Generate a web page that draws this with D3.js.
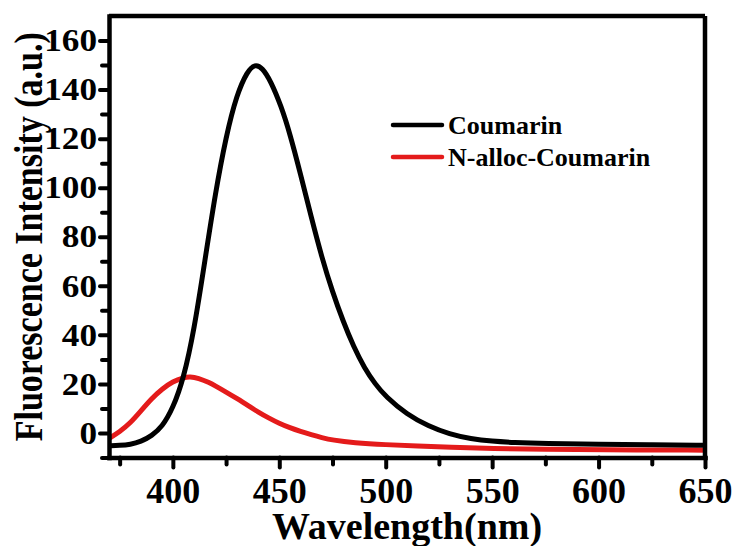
<!DOCTYPE html>
<html>
<head>
<meta charset="utf-8">
<script src="https://cdn.jsdelivr.net/npm/d3@7"></script>
<style>
  body { margin: 0; background: #fff; }
  text { font-family: "Liberation Serif", "Times New Roman", serif; font-weight: bold; }
</style>
</head>
<body>
<div id="container"></div>
<script>
/* DATA */
const coumarinWl = [370, 375, 380, 385, 390, 395, 400, 405, 410, 415, 420, 425, 430, 435, 438.5, 442, 446, 451, 455, 460, 465, 470, 475, 480, 485, 490, 495, 500, 510, 520, 530, 540, 550, 560, 575, 600, 625, 650];
const coumarinVal = [-5.2, -5.1, -4.7, -3.5, -1.2, 2.5, 10, 22, 42, 70, 98, 121, 138, 147.5, 150.4, 149, 143.5, 133, 122, 105.5, 88, 71.5, 57.5, 45.5, 35, 26.5, 20, 14.8, 7.5, 2.8, -0.5, -2.4, -3.4, -3.9, -4.3, -4.6, -4.8, -5];

const allocWl = [370, 375, 380, 385, 390, 395, 400, 405, 408, 412, 417, 420, 425, 430, 435, 440, 445, 450, 455, 460, 465, 470, 475, 485, 500, 515, 530, 550, 575, 600, 650];
const allocVal = [-2.2, 0.5, 4, 9, 14, 18, 21, 22.6, 23, 22.4, 20.6, 19.2, 16.7, 14.1, 11.3, 8.6, 6.1, 3.9, 2.1, 0.6, -0.7, -1.9, -2.9, -4, -4.8, -5.3, -5.8, -6.3, -6.7, -6.9, -7];

const seriesNames = ["Coumarin", "N-alloc-Coumarin"];
const seriesColors = ["#000000", "#e41b1b"];

const xTicks = [400, 450, 500, 550, 600, 650];
const xMinor = [375, 425, 475, 525, 575, 625];
const yTicks = [0, 20, 40, 60, 80, 100, 120, 140, 160];
const yMinor = [-10, 10, 30, 50, 70, 90, 110, 130, 150];

/* CONSTANTS */
const W = 737, H = 546;
const margin = { top: 16, right: 32, bottom: 88.5, left: 109 };
const width = W - margin.left - margin.right;
const height = H - margin.top - margin.bottom;

const svg = d3.select("#container")
  .append("svg")
  .attr("width", W)
  .attr("height", H);

const x = d3.scaleLinear().domain([370, 650]).range([0, width]);
const y = d3.scaleLinear().domain([-10, 170]).range([height, 0]);

const g = svg.append("g").attr("transform", `translate(${margin.left},${margin.top})`);

g.append("clipPath").attr("id", "clip")
  .append("rect").attr("width", width).attr("height", height);

const line = d3.line()
  .x(d => x(d[0]))
  .y(d => y(d[1]))
  .curve(d3.curveBasis);

const series = [
  d3.zip(coumarinWl, coumarinVal),
  d3.zip(allocWl, allocVal)
];

// red first so the black one sits on top where they cross
g.selectAll("path.curve")
  .data([1, 0])
  .join("path")
  .attr("class", "curve")
  .attr("clip-path", "url(#clip)")
  .attr("d", i => line(series[i]))
  .attr("fill", "none")
  .attr("stroke", i => seriesColors[i])
  .attr("stroke-width", 5)
  .attr("stroke-linejoin", "round");

// frame
g.append("line").attr("x1", 0).attr("x2", width).attr("y1", 0).attr("y2", 0)
  .attr("stroke", "#000").attr("stroke-width", 4.5);
g.append("line").attr("x1", width).attr("x2", width).attr("y1", 0).attr("y2", height)
  .attr("stroke", "#000").attr("stroke-width", 4.5);

// axes
function styleAxis(sel) {
  sel.select(".domain").attr("stroke-width", 4.5).attr("stroke-linecap", "square");
  sel.selectAll(".tick line").attr("stroke-width", 4).attr("stroke-linecap", "round");
}

const xMinorAxis = g.append("g").attr("transform", `translate(0,${height})`)
  .call(d3.axisBottom(x).tickValues(xMinor).tickSize(7).tickFormat(""));
styleAxis(xMinorAxis);
xMinorAxis.select(".domain").remove();

const xAxis = g.append("g").attr("transform", `translate(0,${height})`)
  .call(d3.axisBottom(x).tickValues(xTicks).tickSize(10).tickPadding(10).tickSizeOuter(0));
styleAxis(xAxis);
xAxis.selectAll(".tick text").attr("font-size", 36).attr("fill", "#000");

const yMinorAxis = g.append("g")
  .call(d3.axisLeft(y).tickValues(yMinor).tickSize(7).tickFormat(""));
styleAxis(yMinorAxis);
yMinorAxis.select(".domain").remove();

const yAxis = g.append("g")
  .call(d3.axisLeft(y).tickValues(yTicks).tickSize(9).tickPadding(0).tickSizeOuter(0));
styleAxis(yAxis);
yAxis.selectAll(".tick text")
  .attr("font-size", 32)
  .attr("fill", "#000")
  .attr("x", 0)
  .attr("transform", "translate(-12,0) scale(1.1,1)");

// axis titles
svg.append("text")
  .attr("x", margin.left + width / 2)
  .attr("y", 539)
  .attr("text-anchor", "middle")
  .attr("font-size", 38)
  .text("Wavelength(nm)");

svg.append("text")
  .attr("transform", `translate(42,${margin.top + height / 2}) scale(1.15,1) rotate(-90)`)
  .attr("text-anchor", "middle")
  .attr("font-size", 34)
  .text("Fluorescence Intensity (a.u.)");

// legend
const legend = svg.append("g").attr("transform", "translate(393,125)");
const item = legend.selectAll("g")
  .data(seriesNames)
  .join("g")
  .attr("transform", (d, i) => `translate(0,${i * 32})`);
item.append("line")
  .attr("x1", 0).attr("x2", 49)
  .attr("stroke", (d, i) => seriesColors[i])
  .attr("stroke-width", 4.5)
  .attr("stroke-linecap", "round");
item.append("text")
  .attr("x", 55)
  .attr("y", 8.5)
  .attr("font-size", 26)
  .text(d => d);
</script>
</body>
</html>
